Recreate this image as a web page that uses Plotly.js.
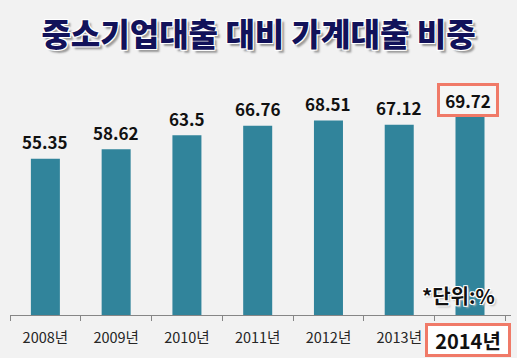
<!DOCTYPE html>
<html>
<head>
<meta charset="utf-8">
<script src="https://cdn.plot.ly/plotly-3.0.1.min.js"></script>
<style>html,body{margin:0;padding:0;background:#f2f2f2;}#chart{width:517px;height:358px;}</style>
</head>
<body>
<div id="chart"></div>
<script>
const categories = ['2008년','2009년','2010년','2011년','2012년','2013년','2014년'];
const values = [55.35, 58.62, 63.5, 66.76, 68.51, 67.12, 69.72];
const tickLabels = ['2008년','2009년','2010년','2011년','2012년','2013년',''];
const highlightLabel = '2014년';
const titleText = '중소기업대출 대비 가계대출 비중';
const unitText = '*단위:%';

const KR = '"Noto Sans CJK KR", "Noto Sans", sans-serif';
const last = values.length - 1;

const annotations = values.map((v, i) => {
  const a = {
    x: categories[i], y: v, xref: 'x', yref: 'y',
    text: String(v), showarrow: false, yanchor: 'middle', yshift: 17,
    font: {family: KR, size: 17, color: '#111', weight: 'bold'}
  };
  if (i === last) {
    Object.assign(a, {bordercolor: '#F07A68', borderwidth: 3, borderpad: 2,
      bgcolor: '#f6f6f6', width: 52, height: 24, xshift: -2});
  }
  return a;
});
annotations.push({
  x: categories[last], xref: 'x', y: -0.098, yref: 'paper', yanchor: 'middle',
  text: highlightLabel, showarrow: false, xshift: -2,
  bordercolor: '#F07A68', borderwidth: 3, borderpad: 2, bgcolor: '#ffffff',
  width: 76, height: 24,
  font: {family: KR, size: 20, color: '#111', weight: 'bold'}
});
annotations.push({
  x: 0.896, xref: 'paper', y: 0.078, yref: 'paper', xanchor: 'center', yanchor: 'middle',
  text: unitText, showarrow: false,
  font: {family: KR, size: 20, color: '#111', weight: 'bold',
    shadow: '1px 1px 0 #fff, -1px -1px 0 #fff, 1px -1px 0 #fff, -1px 1px 0 #fff, 2px 2px 2px #bbb'}
});

const trace = {
  type: 'bar', x: categories, y: values,
  marker: {color: '#31849B'}, hoverinfo: 'skip'
};

const layout = {
  width: 517, height: 358,
  margin: {l: 10, r: 6, t: 60, b: 43},
  paper_bgcolor: '#f2f2f2', plot_bgcolor: '#f2f2f2',
  bargap: 0.59,
  showlegend: false,
  title: {
    text: titleText, x: 0.5, xanchor: 'center', y: 1 - 35/358, yref: 'container', yanchor: 'middle',
    font: {family: KR, size: 32, color: '#12125A', weight: 900,
      shadow: '1px 1px 0 #fff, -1px -1px 0 #fff, 1px -1px 0 #fff, -1px 1px 0 #fff, 3px 3px 2px #9a9a9a'}
  },
  xaxis: {
    type: 'category', tickvals: categories, ticktext: tickLabels,
    showline: true, linecolor: '#868686', linewidth: 1,
    ticks: 'outside', tickson: 'boundaries', ticklen: 5, tickcolor: '#868686',
    ticklabelstandoff: 10,
    tickfont: {family: KR, size: 14.5, color: '#262626'},
    showgrid: false, zeroline: false, fixedrange: true
  },
  yaxis: {
    range: [1.5, 89.4], visible: false, showgrid: false, zeroline: false, fixedrange: true
  },
  annotations: annotations
};

Plotly.newPlot('chart', [trace], layout, {displayModeBar: false, staticPlot: true});
</script>
</body>
</html>
